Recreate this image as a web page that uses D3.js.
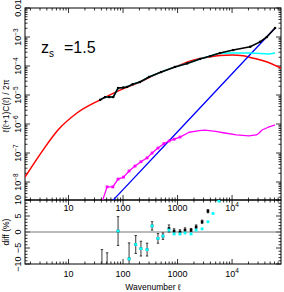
<!DOCTYPE html>
<html><head><meta charset="utf-8">
<script src="https://cdn.jsdelivr.net/npm/d3@7"></script>
<style>body{margin:0;background:#fff}svg{display:block}text{font-family:"Liberation Sans",Arial,sans-serif;fill:#000}</style>
</head><body><svg id="c" width="284" height="292"></svg>
<script>
// ---- data ----
const redEll = [1.59, 3.4, 6.4, 14.3, 38, 88, 204, 400, 896, 2000, 3790, 6000, 10000, 16000, 23400, 40000, 79000];
const redVal = [1.48e-8, 1.26e-7, 6.2e-7, 2.4e-6, 6.8e-6, 1.48e-5, 2.8e-5, 5.2e-5, 9.3e-5, 1.6e-4, 2.04e-4, 2.3e-4, 2.4e-4, 2.25e-4, 1.9e-4, 1.45e-4, 8.5e-5];

const blackEll = [38, 47, 56, 66, 81, 100, 118, 150, 204, 300, 500, 896, 1500, 2570, 4000, 6030, 10500, 21500, 32600, 43400, 61500];
const blackVal = [6.8e-6, 8.5e-6, 8.5e-6, 8.5e-6, 1.74e-5, 1.8e-5, 1.9e-5, 2.35e-5, 2.8e-5, 4.2e-5, 6.2e-5, 9.3e-5, 1.23e-4, 1.75e-4, 2.2e-4, 2.8e-4, 3.55e-4, 4.6e-4, 6.8e-4, 1.0e-3, 2.04e-3];

const cyanEll = [38, 47, 56, 66, 81, 100, 118, 150, 204, 300, 500, 896, 1500, 2570, 4000, 5760, 10500, 21500, 48000, 61500];
const cyanVal = [6.8e-6, 8.5e-6, 8.5e-6, 8.5e-6, 1.74e-5, 1.8e-5, 1.9e-5, 2.35e-5, 2.8e-5, 4.2e-5, 6.2e-5, 9.3e-5, 1.23e-4, 1.75e-4, 2.2e-4, 2.75e-4, 2.8e-4, 2.8e-4, 2.6e-4, 2.8e-4];

const blueEll = [60, 100, 1000, 10000, 61500];
const blueVal = [1.98e-9, 5.47e-9, 5.42e-7, 5.41e-5, 2.04e-3];

const magEll = [41, 51, 65, 81, 102, 129, 166, 213, 276, 341, 437, 560, 700, 870, 1110, 1630, 2500, 3180, 5000, 7370, 12000, 20400, 28000, 31300, 35600, 45000, 61500];
const magVal = [2.0e-9, 6.8e-9, 6.8e-9, 1.26e-8, 1.48e-8, 2.4e-8, 3.55e-8, 5.0e-8, 6.8e-8, 1.0e-7, 1.48e-7, 2.1e-7, 2.6e-7, 3.0e-7, 3.55e-7, 5.2e-7, 5.9e-7, 6.2e-7, 5.6e-7, 4.9e-7, 4.2e-7, 3.9e-7, 4.2e-7, 4.9e-7, 6.2e-7, 7.6e-7, 9.3e-7];

const diffEll   = [41, 51, 81, 129, 171, 213, 276, 341, 437, 540, 696, 864, 1110, 1370, 1770, 2190, 2820, 3610, 4470, 5720];
const diffBlack = [-14, -15, 0.3, -8.4, -3.9, -5.2, -5.5, 1.9, -2.0, -1.3, 1.1, 0.3, 0.0, 0.6, 0.6, 1.6, 3.2, 6.5, 13, 16];
const diffErr   = [8.5, 8.5, 4.5, 5.0, 2.8, 2.3, 2.0, 1.3, 1.5, 1.0, 1.1, 0.7, 0.7, 0.7, 0.5, 0.6, 0.5, 0.5, 0.5, 0.5];
const diffCyan  = [-14, -15, 0.3, -8.4, -3.9, -5.2, -5.5, 1.9, -2.0, -1.3, 0.6, -0.6, -0.6, -0.3, -0.6, 0.6, 1.0, 3.2, 5.8, 9.7];

const xMajor = [10, 100, 1000, 10000];
const xMajorLabels = [["10",""],["100",""],["1000",""],["10","4"]];
const yMajor = [1e-2, 1e-3, 1e-4, 1e-5, 1e-6, 1e-7, 1e-8];
const yMajorLabels = [["0.01",""],["10","\u22123"],["10","\u22124"],["10","\u22125"],["10","\u22126"],["10","\u22127"],["10","\u22128"]];
const dMajor = [-10, -5, 0, 5, 10];
const dMajorLabels = ["\u221210", "\u22125", "0", "5", "10"];

// ---- layout ----
const L = 25, R = 281, T = 8, M = 200, B = 264;
const svg = d3.select("#c");
const x = d3.scaleLog().domain([1.59, 79000]).range([L, R]);
const y = d3.scaleLog().domain([Math.pow(10, -8.62), 1e-2]).range([M, T]);
const yd = d3.scaleLinear().domain([-10, 10]).range([B, M]);

const defs = svg.append("defs");
defs.append("clipPath").attr("id", "cTop").append("rect").attr("x", L).attr("y", T).attr("width", R - L).attr("height", M - T);
defs.append("clipPath").attr("id", "cBot").append("rect").attr("x", L).attr("y", M).attr("width", R - L).attr("height", B - M);

// minor tick lists
const xMinor = [];
for (let e = 0; e <= 4; e++) for (let k = 2; k <= 9; k++) { const v = k * Math.pow(10, e); if (v > 1.59 && v < 79000) xMinor.push(v); }
const yMinor = [];
for (let e = -9; e <= -3; e++) for (let k = 2; k <= 9; k++) { const v = k * Math.pow(10, e); if (v > Math.pow(10, -8.62) && v < 1e-2) yMinor.push(v); }
const dMinor = d3.range(-10, 11).filter(v => v % 5 !== 0);

const axes = svg.append("g").attr("stroke", "#000").attr("stroke-width", 0.8);
function xTicks(y0, dir) {
  xMajor.forEach(v => axes.append("line").attr("x1", x(v)).attr("x2", x(v)).attr("y1", y0).attr("y2", y0 + dir * 5));
  xMinor.forEach(v => axes.append("line").attr("x1", x(v)).attr("x2", x(v)).attr("y1", y0).attr("y2", y0 + dir * 2.5));
}
xTicks(T, 1); xTicks(M, -1); xTicks(M, 1); xTicks(B, -1);
function yTicks(sc, majors, minors) {
  [[L, 1], [R, -1]].forEach(([x0, dir]) => {
    majors.forEach(v => axes.append("line").attr("x1", x0).attr("x2", x0 + dir * 5).attr("y1", sc(v)).attr("y2", sc(v)));
    minors.forEach(v => axes.append("line").attr("x1", x0).attr("x2", x0 + dir * 2.5).attr("y1", sc(v)).attr("y2", sc(v)));
  });
}
yTicks(y, yMajor, yMinor);
yTicks(yd, dMajor, dMinor);

// zero line
svg.append("line").attr("x1", L).attr("x2", R).attr("y1", yd(0)).attr("y2", yd(0)).attr("stroke", "#777").attr("stroke-width", 1);

// frames
svg.append("rect").attr("x", L).attr("y", T).attr("width", R - L).attr("height", M - T).attr("fill", "none").attr("stroke", "#000").attr("stroke-width", 1);
svg.append("rect").attr("x", L).attr("y", M).attr("width", R - L).attr("height", B - M).attr("fill", "none").attr("stroke", "#000").attr("stroke-width", 1);

// curves
const gTop = svg.append("g").attr("clip-path", "url(#cTop)");
function curve(ells, vals, color, w, smooth) {
  const line = d3.line().x(d => x(d[0])).y(d => y(d[1])).curve(smooth ? d3.curveMonotoneX : d3.curveLinear);
  gTop.append("path").datum(ells.map((e, i) => [e, vals[i]])).attr("d", line)
    .attr("fill", "none").attr("stroke", color).attr("stroke-width", w).attr("stroke-linejoin", "round");
}
curve(redEll, redVal, "#ff0000", 1.5, true);
curve(blueEll, blueVal, "#0000ff", 1.3, false);
curve(magEll, magVal, "#ff00ff", 1.3, false);
gTop.selectAll("rect.mm").data(magEll.map((e, i) => [e, magVal[i]]).filter(d => d[0] < 1200)).enter().append("rect")
  .attr("x", d => x(d[0]) - 1.4).attr("y", d => y(d[1]) - 1.4).attr("width", 2.8).attr("height", 2.8).attr("fill", "#ff00ff");
curve(cyanEll, cyanVal, "#00ffff", 1.5, false);
curve(blackEll, blackVal, "#000", 1.6, false);
gTop.selectAll("rect.bm").data(blackEll.map((e, i) => [e, blackVal[i]])).enter().append("rect")
  .attr("x", d => x(d[0]) - 1.1).attr("y", d => y(d[1]) - 1.1).attr("width", 2.2).attr("height", 2.2).attr("fill", "#000");

// diff panel
const gBot = svg.append("g").attr("clip-path", "url(#cBot)");
diffEll.forEach((e, i) => {
  const cx = x(e), lo = yd(diffBlack[i] - diffErr[i]), hi = yd(diffBlack[i] + diffErr[i]);
  gBot.append("line").attr("x1", cx).attr("x2", cx).attr("y1", lo).attr("y2", hi).attr("stroke", "#222").attr("stroke-width", 0.9);
  [lo, hi].forEach(yy => gBot.append("line").attr("x1", cx - 1.2).attr("x2", cx + 1.2).attr("y1", yy).attr("y2", yy).attr("stroke", "#222").attr("stroke-width", 0.9));
  gBot.append("rect").attr("x", cx - 1.3).attr("y", yd(diffBlack[i]) - 1.3).attr("width", 2.6).attr("height", 2.6).attr("fill", "#000");
  gBot.append("rect").attr("x", cx - 1.4).attr("y", yd(diffCyan[i]) - 1.4).attr("width", 2.8).attr("height", 2.8).attr("fill", "#00ffff");
});

// labels
const fs = 9;
function xLabels(yy) {
  xMajor.forEach((v, i) => {
    const t = svg.append("text").attr("x", x(v)).attr("y", yy).attr("text-anchor", "middle").attr("font-size", fs);
    t.append("tspan").text(xMajorLabels[i][0]);
    if (xMajorLabels[i][1]) t.append("tspan").attr("dy", -3.5).attr("font-size", 6.5).text(xMajorLabels[i][1]);
  });
}
xLabels(210.5); xLabels(276.5);
yMajor.forEach((v, i) => {
  const t = svg.append("text").attr("transform", `translate(21,${y(v)}) rotate(-90)`).attr("text-anchor", "middle").attr("font-size", fs);
  t.append("tspan").text(yMajorLabels[i][0]);
  if (yMajorLabels[i][1]) t.append("tspan").attr("dy", -3.5).attr("font-size", 6.5).text(yMajorLabels[i][1]);
});
dMajor.forEach((v, i) => {
  svg.append("text").attr("transform", `translate(21,${yd(v)}) rotate(-90)`).attr("text-anchor", "middle").attr("font-size", fs).text(dMajorLabels[i]);
});
svg.append("text").attr("transform", "translate(9,106) rotate(-90)").attr("text-anchor", "middle").attr("font-size", 8.5).text("\u2113(\u2113+1)C(\u2113) / 2\u03c0");
svg.append("text").attr("transform", "translate(9,232) rotate(-90)").attr("text-anchor", "middle").attr("font-size", 8.5).text("diff (%)");
svg.append("text").attr("x", 153).attr("y", 290).attr("text-anchor", "middle").attr("font-size", 8.5).text("Wavenumber \u2113");
const z = svg.append("text").attr("x", 41).attr("y", 53).attr("font-size", 16);
z.append("tspan").text("z");
z.append("tspan").attr("dy", 4).attr("font-size", 10).text("s");
svg.append("text").attr("x", 64).attr("y", 53).attr("font-size", 16).text("=1.5");
</script></body></html>
